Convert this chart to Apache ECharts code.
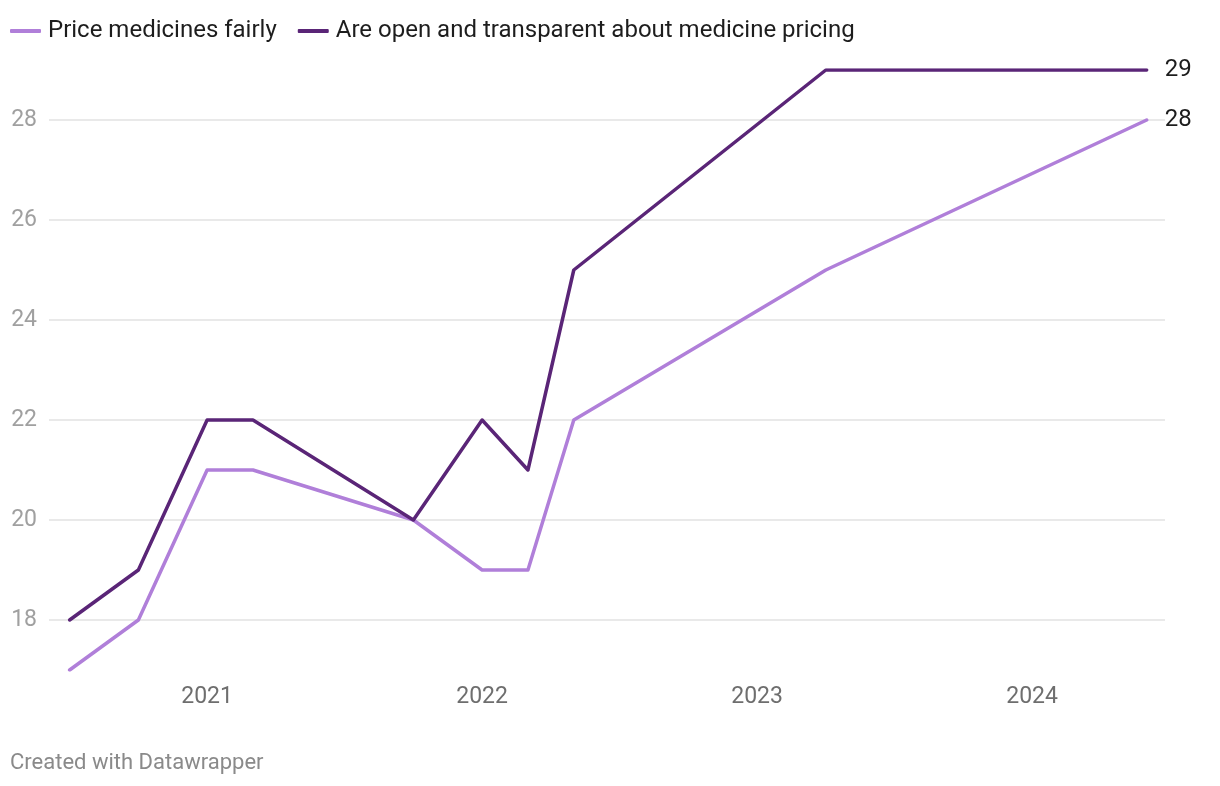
<!DOCTYPE html>
<html>
<head>
<meta charset="utf-8">
<script src="https://cdn.jsdelivr.net/npm/echarts@6/dist/echarts.min.js"></script>
<style>
html,body{margin:0;padding:0;background:#fff;}
#chart{width:1220px;height:786px;}
</style>
</head>
<body>
<div id="chart"></div>
<script>
const dates = ['2020-07-01','2020-10-01','2021-01-01','2021-03-01','2021-10-01','2022-01-01','2022-03-01','2022-05-01','2023-04-01','2024-06-01'];
const priceFairly = [17,18,21,21,20,19,19,22,25,28];
const openTransparent = [18,19,22,22,20,22,21,25,29,29];
const seriesNames = ['Price medicines fairly','Are open and transparent about medicine pricing'];
const yTicks = [18,20,22,24,26,28];
const xYears = [2021,2022,2023,2024];
const footer = 'Created with Datawrapper';

// months since Jan 2020 (fractional, by day)
function toMonths(s){
  const [y,m,d] = s.split('-').map(Number);
  const dim = new Date(y, m, 0).getDate();
  return (y-2020)*12 + (m-1) + (d-1)/dim;
}
const xs = dates.map(toMonths);
const pts = arr => arr.map((v,i)=>[xs[i], v]);

const FONT = 'Roboto, "Noto Sans", sans-serif';
const chart = echarts.init(document.getElementById('chart'), null, {renderer:'canvas'});
chart.setOption({
  animation:false,
  backgroundColor:'#fff',
  textStyle:{fontFamily:FONT},
  legend:{
    left:10, top:19, padding:0,
    data:seriesNames,
    icon:'roundRect', itemWidth:31, itemHeight:4, itemGap:21,
    textStyle:{fontSize:24, color:'#1d1d1d', fontFamily:FONT, padding:[0,0,0,2]},
    selectedMode:false
  },
  grid:{left:49, right:55, top:70, bottom:116},
  xAxis:{
    type:'value', min:5.1, max:53.8, interval:0.3,
    axisLine:{show:false}, axisTick:{show:false}, splitLine:{show:false},
    axisLabel:{
      margin:16, fontSize:23, color:'#6e6e6e', fontFamily:FONT,
      formatter:v=>{
        const yr = 2020 + v/12;
        const r = Math.round(yr);
        return (Math.abs(yr-r)<1e-6 && xYears.includes(r)) ? String(r) : '';
      }
    }
  },
  yAxis:{
    type:'value', min:17, max:29, interval:1,
    axisLine:{show:false}, axisTick:{show:false}, splitLine:{show:false},
    axisLabel:{
      margin:12, fontSize:23, color:'#a0a0a0', fontFamily:FONT,
      formatter:v=> yTicks.includes(v) ? String(v) : ''
    }
  },
  graphic:[{
    type:'text', left:10, top:752,
    style:{text:footer, fontSize:22, fill:'#8a8a8a', fontFamily:FONT}
  }],
  series:[
    {
      name:'grid', type:'line', data:[], z:0, silent:true,
      showSymbol:false, tooltip:{show:false},
      markLine:{
        z:0, silent:true, symbol:['none','none'], label:{show:false},
        lineStyle:{color:'#e2e2e2', width:1.5, type:'solid'},
        emphasis:{disabled:true},
        data: yTicks.map(v=>({yAxis:v}))
      }
    },
    {
      name:seriesNames[0], type:'line', data:pts(priceFairly), z:3,
      showSymbol:false, color:'#b07fd9',
      lineStyle:{width:3.5, color:'#b07fd9', cap:'round', join:'round'},
      emphasis:{disabled:true},
      endLabel:{show:true, distance:18, fontSize:24, color:'#1d1d1d', fontFamily:FONT,
        formatter:p=>String(p.value[1])}
    },
    {
      name:seriesNames[1], type:'line', data:pts(openTransparent), z:4,
      showSymbol:false, color:'#5a2577',
      lineStyle:{width:3.5, color:'#5a2577', cap:'round', join:'round'},
      emphasis:{disabled:true},
      endLabel:{show:true, distance:18, fontSize:24, color:'#1d1d1d', fontFamily:FONT,
        formatter:p=>String(p.value[1])}
    }
  ]
});
</script>
</body>
</html>
